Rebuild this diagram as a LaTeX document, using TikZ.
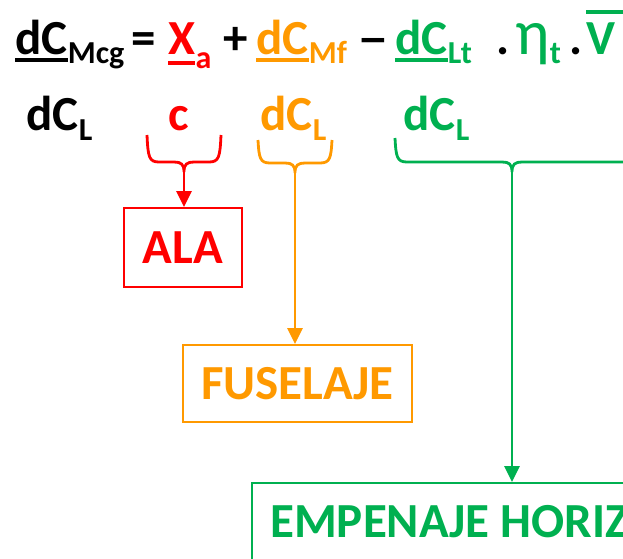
\documentclass[tikz,border=0pt]{standalone}
\usepackage{fontspec}
\setmainfont{Carlito}
\usetikzlibrary{arrows.meta,positioning}
\definecolor{rojo}{HTML}{FF0000}
\definecolor{naranja}{HTML}{FF9900}
\definecolor{verde}{HTML}{00B050}
\tikzset{
  big/.style={inner sep=0pt, anchor=base west, font=\bfseries\fontsize{49}{52}\selectfont},
  small/.style={inner sep=0pt, anchor=base west, font=\bfseries\fontsize{32}{34}\selectfont},
  caja/.style={draw, line width=2pt, inner sep=0pt},
  flecha/.style={line width=2.8pt, -{Triangle[width=15pt,length=16pt]}},
  llave/.style={line width=2.8pt},
  raya/.style={line width=4.5pt},
}
\begin{document}
\begin{tikzpicture}[x=1pt,y=-1pt]
\useasboundingbox (0,0) rectangle (623,558);
\clip (0,0) rectangle (623,558);
% ecuacion
\node[big] (dcm) at (15,54) {dC};
\node[small] (mcg) at ([yshift=-9pt]dcm.base east) {Mcg};
\node[big] (igual) at (131,54) {=};
\node[big, rojo] (xa) at (168,54) {X};
\node[small, rojo] (a) at ([yshift=-14pt]xa.base east) {a};
\node[big] (mas) at (223,54) {+};
\node[big, naranja] (dcmf) at (256,54) {dC};
\node[small, naranja] (mf) at ([yshift=-9pt]dcmf.base east) {Mf};
\node[big] (menos) at (357,54) {\scalebox{1.3}[1]{–}};
\node[big, verde] (dclt) at (395,54) {dC};
\node[small, verde] (lt) at ([yshift=-9pt]dclt.base east) {Lt};
\node[big] (p1) at (496,54) {.};
\node[big, verde, font=\fontsize{64}{66}\selectfont] (eta) at (515,54) {η};
\node[small, verde] (t) at ([yshift=-9pt]eta.base east) {t};
\node[big] (p2) at (569,54) {.};
\node[big, verde] (v) at (586,54) {V};
\draw[raya] ([yshift=-6pt]dcm.base west) -- ([yshift=-6pt]dcm.base east);
\draw[raya, rojo] ([yshift=-9pt]xa.base west) -- ([yshift=-9pt]xa.base east);
\draw[raya, naranja] ([yshift=-6pt]dcmf.base west) -- ([yshift=-6pt]dcmf.base east);
\draw[raya, verde] ([yshift=-6pt]dclt.base west) -- ([yshift=-6pt]dclt.base east);
\draw[raya, verde] ([yshift=10pt]v.north west) -- ([yshift=10pt,xshift=20pt]v.north east);
% derivadas
\node[big] (dcl1) at (26,130) {dC};
\node[small] at ([yshift=-10pt]dcl1.base east) {L};
\node[big, rojo] (c) at (168,130) {c};
\node[big, naranja] (dcl2) at (260,130) {dC};
\node[small, naranja] at ([yshift=-10pt]dcl2.base east) {L};
\node[big, verde] (dcl3) at (403,130) {dC};
\node[small, verde] at ([yshift=-10pt]dcl3.base east) {L};
% llaves
\draw[llave, rojo] (147,135) .. controls (148,157) and (149,162) .. (159,162) -- (174,162)
  .. controls (181,162) and (184,164) .. (184,172) .. controls (184,164) and (187,162) .. (194,162)
  -- (209,162) .. controls (219,162) and (220,157) .. (221,135);
\coordinate (pa) at (184,172);
\draw[llave, naranja] (258,140) .. controls (259,158) and (260,163) .. (270,163) -- (285,163)
  .. controls (292,163) and (295,165) .. (295,173) .. controls (295,165) and (298,163) .. (305,163)
  -- (320,163) .. controls (330,163) and (331,158) .. (332,140);
\coordinate (pf) at (295,173);
\draw[llave, verde] (395,138) .. controls (396,157) and (397,162) .. (407,162) -- (502,162)
  .. controls (509,162) and (512,164) .. (512,172) .. controls (512,164) and (515,162) .. (522,162)
  -- (630,162) .. controls (640,162) and (641,157) .. (642,138);
\coordinate (pe) at (512,172);
% cajas
\node[caja, rojo, big, anchor=center, minimum width=118pt, minimum height=79pt] (ala) at (183,247.5) {ALA};
\node[caja, naranja, big, anchor=center, minimum width=229pt, minimum height=77pt] (fus) at (297.5,383.5) {FUSELAJE};
\node[caja, verde, anchor=north west, minimum width=420pt, minimum height=120pt] (emp) at (251,482) {};
\node[big, verde] at ([xshift=19pt,yshift=-55pt]emp.north west) {EMPENAJE HORIZ};
% flechas
\draw[flecha, rojo] (pa) -- (pa |- ala.north);
\draw[flecha, naranja] (pf) -- (pf |- fus.north);
\draw[flecha, verde] (pe) -- (pe |- emp.north);
\end{tikzpicture}
\end{document}
